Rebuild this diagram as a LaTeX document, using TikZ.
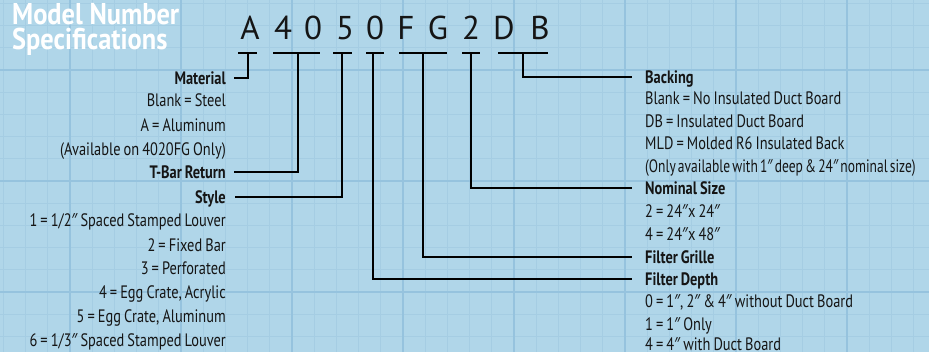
\documentclass[tikz,border=0pt]{standalone}
\usepackage{fontspec}
\setmainfont{PT Sans}[FakeStretch=0.8,WordSpace=0.8]
\newfontfamily\tightfont{PT Sans}[FakeStretch=0.75,WordSpace=0.6]
\newfontfamily\titlefont{PT Sans}[FakeStretch=0.88]
\newfontfamily\codefont{PT Sans}
\newfontfamily\primefont{Noto Sans}[FakeStretch=0.8]
\newfontfamily\tightprimefont{Noto Sans}[FakeStretch=0.72]
\newcommand\dq{{\primefont ″}}
\newcommand\tdq{{\tightprimefont ″}}
\definecolor{bgc}{HTML}{B0D6E9}
\definecolor{minorc}{HTML}{A5CDE3}
\definecolor{majorc}{HTML}{96C3DE}
\definecolor{inkc}{HTML}{151515}
\tikzset{
  lbl/.style={inner sep=0pt, text height=12.6pt, text depth=0pt, text=inkc, font=\fontsize{18}{21}\selectfont},
  lft/.style={lbl, anchor=east},
  rgt/.style={lbl, anchor=west},
  lfth/.style={lft, font=\fontsize{18}{21}\selectfont\bfseries},
  rgth/.style={rgt, font=\fontsize{18}{21}\selectfont\bfseries},
  codeletter/.style={inner sep=0pt, anchor=base, text=inkc, font=\codefont\fontsize{33}{36}\selectfont},
  titletext/.style={inner sep=0pt, anchor=base west, text height=20pt, text depth=0pt, text=white, font=\titlefont\bfseries\fontsize{30}{32}\selectfont},
  conn/.style={line width=1.2pt, black},
  minorline/.style={minorc, line width=1.2pt},
  majorline/.style={majorc, line width=2.2pt}
}
\begin{document}
\begin{tikzpicture}[x=1pt,y=-1pt]
\useasboundingbox (0,0) rectangle (929,352);
% background grid
\fill[bgc] (0,0) rectangle (929,352);
\foreach \i in {-3,...,39} \draw[minorline] ({70+22.2*\i},0) -- ({70+22.2*\i},352);
\foreach \i in {-3,...,13} \draw[minorline] (0,{70+22.2*\i}) -- (929,{70+22.2*\i});
\foreach \i in {0,...,7} \draw[majorline] ({70+111*\i},0) -- ({70+111*\i},352);
\foreach \i in {0,...,2} \draw[majorline] (0,{70+111*\i}) -- (929,{70+111*\i});
% title
\node[titletext] (t1) at (12,25) {Model Number};
\node[titletext] (t2) at (12,50) {Specifications};
% model number letters
\foreach \ch/\xx/\nm in {A/250/L1,4/283/L2,0/313/L3,5/345/L4,0/375/L5,F/406/L6,G/438/L7,2/471/L8,D/504/L9,B/540/L10}
  \node[codeletter] (\nm) at (\xx,40) {\ch};
% underline segments
\foreach \a/\b/\nm in {238/257/uA,273/320/u40,333/352/u5,366/384/u0,399/447/uFG,462/480/u2,498/548/uDB}{
  \coordinate (\nm a) at (\a,53);
  \coordinate (\nm b) at (\b,53);
  \draw[conn] (\nm a) -- (\nm b);
}
\coordinate (vA) at (248,53);
\coordinate (v40) at (298,53);
\coordinate (v5) at (342,53);
\coordinate (v0) at (373,53);
\coordinate (vFG) at (423,53);
\coordinate (v2) at (471,53);
\coordinate (vDB) at (523,53);
% left labels
\node[lfth] (mat) at (226,78) {Material};
\node[lft] (l1) at (226,100) {Blank = Steel};
\node[lft] (l2) at (226,125) {A = Aluminum};
\node[lft] (l3) at (226,149) {(Available on 4020FG Only)};
\node[lfth] (tbar) at (226,172) {T-Bar Return};
\node[lfth] (sty) at (226,197) {Style};
\node[lft] (s1) at (226,220) {1 = 1/2\dq\ Spaced Stamped Louver};
\node[lft] (s2) at (226,245) {2 = Fixed Bar};
\node[lft] (s3) at (226,268) {3 = Perforated};
\node[lft] (s4) at (226,292) {4 = Egg Crate, Acrylic};
\node[lft] (s5) at (226,316) {5 = Egg Crate, Aluminum};
\node[lft] (s6) at (226,340) {6 = 1/3\dq\ Spaced Stamped Louver};
% right labels
\node[rgth] (back) at (645,77) {Backing};
\node[rgt] (b1) at (645,98) {Blank = No Insulated Duct Board};
\node[rgt] (b2) at (645,121) {DB = Insulated Duct Board};
\node[rgt] (b3) at (645,143) {MLD = Molded R6 Insulated Back};
\node[rgt, font=\tightfont\fontsize{18}{21}\selectfont] (b4) at (645,166) {(Only available with 1\tdq\ deep \& 24\tdq\ nominal size)};
\node[rgth] (nom) at (645,188) {Nominal Size};
\node[rgt] (n1) at (645,211) {2 = 24\dq x 24\dq};
\node[rgt] (n2) at (645,234) {4 = 24\dq x 48\dq};
\node[rgth] (fg) at (645,257) {Filter Grille};
\node[rgth] (fd) at (645,279) {Filter Depth};
\node[rgt] (d1) at (645,301) {0 = 1\dq, 2\dq\ \& 4\dq\ without Duct Board};
\node[rgt] (d2) at (645,324) {1 = 1\dq\ Only};
\node[rgt] (d3) at (645,344) {4 = 4\dq\ with Duct Board};
% connectors
\draw[conn] ([xshift=8pt]mat.east) -| (vA);
\draw[conn] ([xshift=8pt]tbar.east) -| (v40);
\draw[conn] ([xshift=9pt]sty.east) -| (v5);
\draw[conn] (v0) |- ([xshift=-13pt]fd.west);
\draw[conn] (vFG) |- ([xshift=-13pt]fg.west);
\draw[conn] (v2) |- ([xshift=-13pt]nom.west);
\draw[conn] (vDB) |- ([xshift=-13pt]back.west);
\end{tikzpicture}
\end{document}
